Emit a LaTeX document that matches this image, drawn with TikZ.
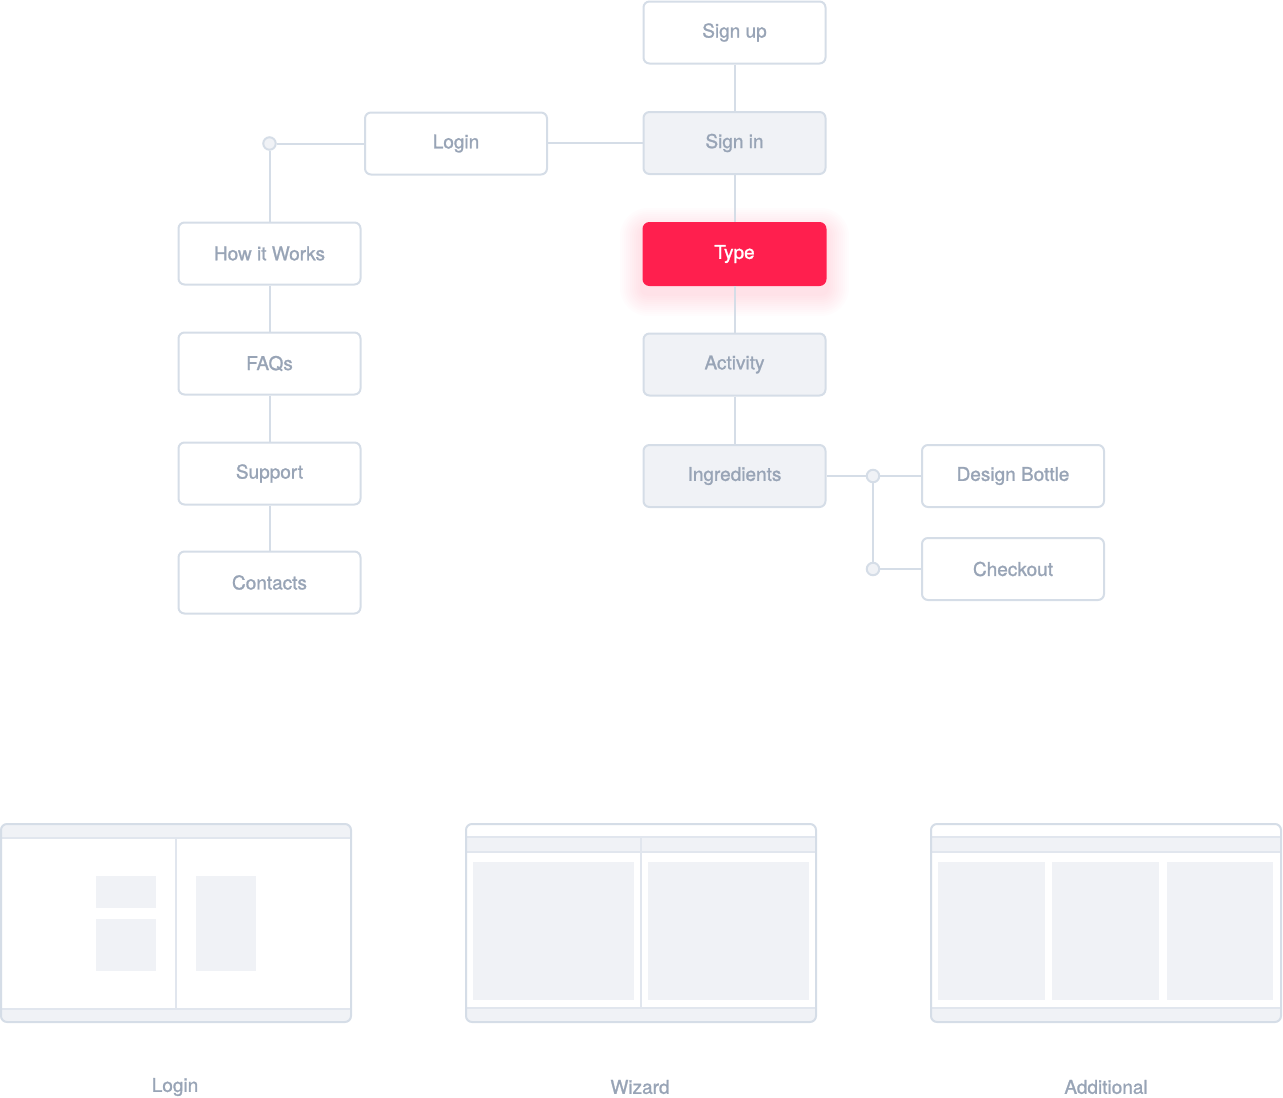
\documentclass[tikz,border=0pt]{standalone}
\usepackage{fontspec}
\setmainfont{TeX Gyre Heros}
\newfontfamily\uifont{TeX Gyre Heros}[FakeBold=1.2]
\usetikzlibrary{positioning}
\definecolor{edge}{HTML}{D5DDE7}
\definecolor{rule}{HTML}{E1E6EE}
\definecolor{label}{HTML}{98A4B6}
\definecolor{pale}{HTML}{F0F2F6}
\definecolor{hot}{HTML}{FF1F4E}

\begin{document}
\begin{tikzpicture}[x=1pt,y=-1pt,line width=2pt,
  page/.style={draw=edge,fill=white,rounded corners=6pt,minimum width=182pt,
    minimum height=62pt,inner sep=0pt,text=label,font=\uifont\fontsize{19}{22}\selectfont},
  visited/.style={page,fill=pale},
  current/.style={page,draw=hot,fill=hot,text=white},
  dot/.style={circle,draw=edge,fill=pale,inner sep=0pt,minimum size=12.5pt},
  link/.style={draw=edge},
  caption/.style={text=label,font=\uifont\fontsize{19}{22}\selectfont}]
  \useasboundingbox (0,0) rectangle (1283,1098);

  % glow under the active page
  \foreach \r in {2,4,...,22}
    \fill[hot,opacity=0.012,rounded corners=6pt+\r pt] (642-\r,230-\r) rectangle (827+\r,294+\r);

  % main flow
  \node[page]    (signup)  at (734.5,32.5) {Sign up};
  \node[visited] (signin)  at (734.5,143)  {Sign in};
  \node[current] (type)    at (734.5,254)  {Type};
  \node[visited] (activity) at (734.5,364.5) {Activity};
  \node[visited] (ingred)  at (734.5,476)  {Ingredients};
  \node[page]    (login)   at (456,143.5)  {Login};
  \node[page]    (design)  at (1013,476)   {Design Bottle};
  \node[page]    (checkout) at (1013,569)  {Checkout};

  % info pages
  \node[page] (how)      at (269.5,253.5) {How it Works};
  \node[page] (faqs)     at (269.5,363.5) {FAQs};
  \node[page] (support)  at (269.5,473.5) {Support};
  \node[page] (contacts) at (269.5,582.5) {Contacts};

  \node[dot] (jl) at (269.5,143.5) {};
  \node[dot] (jr) at (873,476) {};
  \node[dot] (jc) at (873,569) {};

  \draw[link] (signup)--(signin)--(type)--(activity)--(ingred);
  \draw[link] (signin.west)--(signin.west-|login.east);
  \draw[link] (login)--(jl)--(how)--(faqs)--(support)--(contacts);
  \draw[link] (ingred)--(jr)--(design);
  \draw[link] (jr)--(jc)--(checkout);

  % layout: login
  \begin{scope}
    \clip[rounded corners=6pt] (1,824) rectangle (351,1022);
    \fill[pale] (1,824) rectangle (351,1022);
    \fill[white] (1,838) rectangle (351,1009);
    \draw[rule,line width=1.2pt] (1,838)--(351,838) (1,1009)--(351,1009) (176,838)--(176,1009);
    \fill[pale] (96,876) rectangle (156,908);
    \fill[pale] (96,919) rectangle (156,971);
    \fill[pale] (196,876) rectangle (256,971);
  \end{scope}
  \draw[edge,rounded corners=6pt] (1,824) rectangle (351,1022);

  % layout: wizard
  \begin{scope}
    \clip[rounded corners=6pt] (466,824) rectangle (816,1022);
    \fill[white] (466,824) rectangle (816,1022);
    \fill[pale] (466,837) rectangle (816,852);
    \fill[pale] (466,1008) rectangle (816,1022);
    \draw[rule,line width=1.2pt] (466,837)--(816,837) (466,852)--(816,852)
      (466,1008)--(816,1008) (641,837)--(641,1008);
    \fill[pale] (473,862) rectangle (634,1000);
    \fill[pale] (648,862) rectangle (809,1000);
  \end{scope}
  \draw[edge,rounded corners=6pt] (466,824) rectangle (816,1022);

  % layout: additional
  \begin{scope}
    \clip[rounded corners=6pt] (931,824) rectangle (1281,1022);
    \fill[white] (931,824) rectangle (1281,1022);
    \fill[pale] (931,837) rectangle (1281,852);
    \fill[pale] (931,1008) rectangle (1281,1022);
    \draw[rule,line width=1.2pt] (931,837)--(1281,837) (931,852)--(1281,852)
      (931,1008)--(1281,1008);
    \fill[pale] (938,862) rectangle (1045,1000);
    \fill[pale] (1052,862) rectangle (1159,1000);
    \fill[pale] (1167,862) rectangle (1273,1000);
  \end{scope}
  \draw[edge,rounded corners=6pt] (931,824) rectangle (1281,1022);

  \node[caption] (cap1) at (175,1087)  {Login};
  \node[caption] (cap2) at (640,1087)  {Wizard};
  \node[caption] (cap3) at (1106,1087) {Additional};
\end{tikzpicture}
\end{document}
